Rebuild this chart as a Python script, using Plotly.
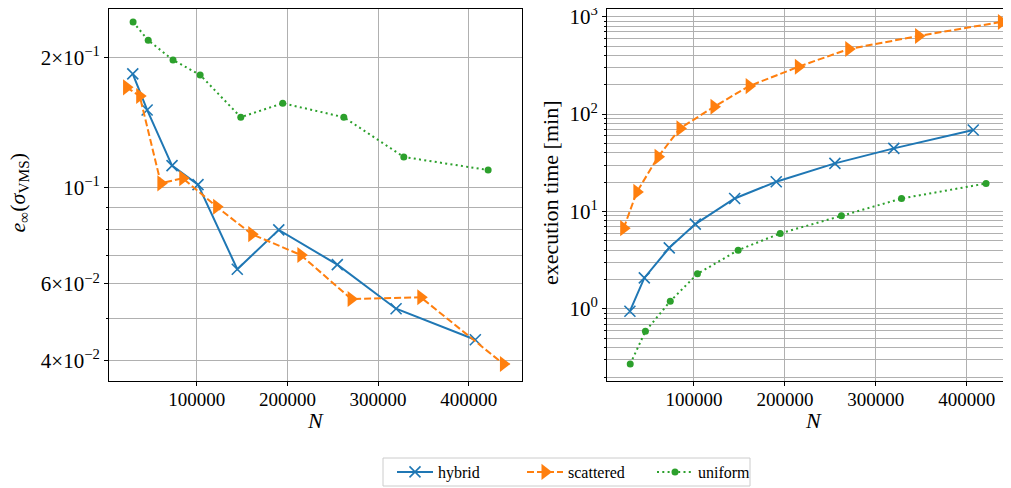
import plotly.graph_objects as go

# ---------------- data ----------------
N_hybrid = [29500, 45350, 72800, 101450, 144750, 190500, 255050, 319850, 407250]
err_hybrid = [0.1834, 0.1514, 0.1126, 0.1018, 0.0649, 0.0800, 0.0665, 0.0526, 0.0446]
time_hybrid = [0.947, 2.08, 4.24, 7.42, 13.6, 20.2, 31.2, 44.5, 68.6]

N_scattered = [22650, 37150, 60500, 84600, 122000, 160700, 214850, 270300, 347100, 438250]
err_scattered = [0.1708, 0.1631, 0.1025, 0.1053, 0.0905, 0.0782, 0.0700, 0.0554, 0.0559, 0.0392]
time_scattered = [6.75, 15.9, 36.4, 71.3, 119, 194, 306, 466, 634, 883]

N_uniform = [29850, 46550, 73900, 103800, 148600, 194850, 262200, 328350, 421350]
err_uniform = [0.2417, 0.2193, 0.1975, 0.1824, 0.1457, 0.1569, 0.1457, 0.1179, 0.1100]
time_uniform = [0.272, 0.590, 1.20, 2.29, 4.01, 5.96, 9.02, 13.6, 19.4]

x_ticks = [100000, 200000, 300000, 400000]
x_ticktext = ["100000", "200000", "300000", "400000"]

err_ticks = [0.04, 0.06, 0.1, 0.2]
err_ticktext = ["4×10<sup>−2</sup>", "6×10<sup>−2</sup>", "10<sup>−1</sup>", "2×10<sup>−1</sup>"]
err_minor = [0.05, 0.07, 0.08, 0.09]

time_ticks = [1, 10, 100, 1000]
time_ticktext = ["10<sup>0</sup>", "10<sup>1</sup>", "10<sup>2</sup>", "10<sup>3</sup>"]
time_minor = [k * 10.0 ** d for d in (-1, 0, 1, 2) for k in range(2, 10)]

BLUE, ORANGE, GREEN = "#1f77b4", "#ff7f0e", "#2ca02c"
FONT = "Liberation Serif"
W, H = 1011, 488

def fx(px):
    return px / W

def fy(py):
    return 1 - py / H

fig = go.Figure()

styles = {
    "hybrid": dict(line=dict(color=BLUE, width=2),
                   marker=dict(symbol="x-thin", size=11, color=BLUE, line=dict(color=BLUE, width=1.6))),
    "scattered": dict(line=dict(color=ORANGE, width=2, dash="7px,3px"),
                      marker=dict(symbol="triangle-right", size=14, color=ORANGE)),
    "uniform": dict(line=dict(color=GREEN, width=2, dash="2px,3.3px"),
                    marker=dict(symbol="circle", size=7, color=GREEN)),
}

series = [
    ("hybrid", N_hybrid, err_hybrid, time_hybrid),
    ("scattered", N_scattered, err_scattered, time_scattered),
    ("uniform", N_uniform, err_uniform, time_uniform),
]

for name, n, e, t in series:
    fig.add_trace(go.Scatter(x=n, y=e, xaxis="x", yaxis="y", name=name, mode="lines+markers",
                             legendgroup=name, cliponaxis=False, **styles[name]))
for name, n, e, t in series:
    fig.add_trace(go.Scatter(x=n, y=t, xaxis="x2", yaxis="y2", name=name, mode="lines+markers",
                             legendgroup=name, showlegend=False, cliponaxis=False, **styles[name]))

grid = "#b0b0b0"
common_x = dict(
    tickmode="array", tickvals=x_ticks, ticktext=x_ticktext,
    showgrid=True, gridcolor=grid, gridwidth=1,
    showline=True, linecolor="black", linewidth=1, mirror=True,
    ticks="outside", ticklen=4, tickcolor="black", zeroline=False,
    ticklabelstandoff=-3,
    tickfont=dict(family=FONT, size=19, color="black"), automargin=False,
)
common_y = dict(
    type="log", tickmode="array",
    showgrid=True, gridcolor=grid, gridwidth=1,
    showline=True, linecolor="black", linewidth=1, mirror=True,
    ticks="outside", ticklen=4, tickcolor="black", zeroline=False,
    ticklabeloverflow="allow",
    tickfont=dict(family=FONT, size=21, color="black"), automargin=False,
)

# plot areas in figure pixels (the page places the figure 8px in from the corner)
yb, yt = fy(373), fy(1)

fig.update_layout(
    width=W, height=H,
    margin=dict(l=0, r=0, t=0, b=0),
    paper_bgcolor="white", plot_bgcolor="white",
    font=dict(family=FONT, color="black"),
    xaxis=dict(common_x, domain=[fx(101), fx(514)], range=[3300, 458700], anchor="y"),
    yaxis=dict(common_y, domain=[yb, yt], anchor="x",
               range=[-1.446, -0.5866], tickvals=err_ticks, ticktext=err_ticktext,
               minor=dict(tickvals=err_minor, ticklen=2.5, ticks="outside", tickcolor="black",
                          showgrid=True, gridcolor=grid, gridwidth=1)),
    xaxis2=dict(common_x, domain=[fx(599), 1.0], range=[4290, 457600], anchor="y2"),
    yaxis2=dict(common_y, domain=[yb, yt], anchor="x2",
                range=[-0.74, 3.079], tickvals=time_ticks, ticktext=time_ticktext,
                minor=dict(tickvals=time_minor, ticklen=2.5, ticks="outside", tickcolor="black",
                           showgrid=True, gridcolor=grid, gridwidth=1)),
    legend=dict(orientation="h", x=fx(384), y=fy(464), xanchor="left", yanchor="middle",
                borderwidth=0, bgcolor="rgba(0,0,0,0)",
                font=dict(family=FONT, size=16, color="black"),
                entrywidth=79, itemwidth=36),
    shapes=[
        dict(type="rect", xref="paper", yref="paper", layer="below",
             x0=fx(375), x1=fx(742), y0=fy(478), y1=fy(450),
             line=dict(color="#cccccc", width=1), fillcolor="white"),
    ],
    annotations=[
        dict(text="<i>N</i>", x=fx(307.5), y=fy(412), xref="paper", yref="paper",
             showarrow=False, xanchor="center", yanchor="middle",
             font=dict(family=FONT, size=22, color="black")),
        dict(text="<i>N</i>", x=fx(805), y=fy(412), xref="paper", yref="paper",
             showarrow=False, xanchor="center", yanchor="middle",
             font=dict(family=FONT, size=22, color="black")),
        dict(text="<i>e</i><sub>∞</sub>(<i>σ</i><sub>VMS</sub>)", x=fx(10.5), y=fy(185),
             xref="paper", yref="paper", showarrow=False, textangle=-90,
             xanchor="center", yanchor="middle",
             font=dict(family=FONT, size=22, color="black")),
        dict(text="execution time [min]", x=fx(543), y=fy(185),
             xref="paper", yref="paper", showarrow=False, textangle=-90,
             xanchor="center", yanchor="middle",
             font=dict(family=FONT, size=22, color="black")),
    ],
)

fig.write_html("out.html")
